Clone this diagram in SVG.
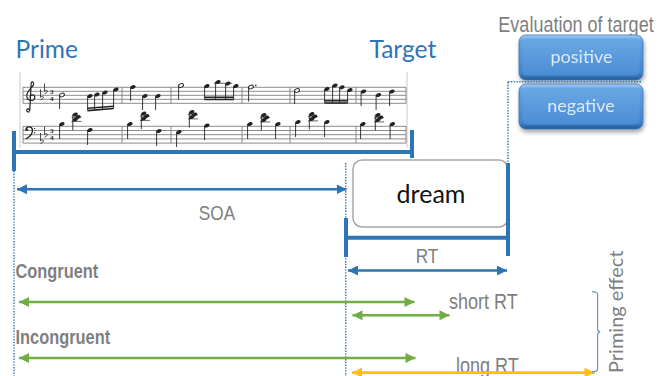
<svg xmlns="http://www.w3.org/2000/svg" xmlns:xlink="http://www.w3.org/1999/xlink" width="660" height="376" viewBox="0 0 660 376">
  <style>
    .blue-title { font-family: Lato, "Open Sans", sans-serif; font-size: 24.5px; fill: #2e75b6; }
    .gray { font-family: "Liberation Sans", Arial, sans-serif; fill: #7f7f7f; }
    .gray-b { font-family: "Liberation Sans", Arial, sans-serif; fill: #7f7f7f; font-weight: bold; }
    .btn-text { font-family: Lato, "Open Sans", sans-serif; font-size: 18px; fill: #dde9f6; text-anchor: middle; }
    .staff { stroke: #6f6f6f; stroke-width: 0.8; fill: none; }
    .ink { fill: #222; }
    .stem { stroke: #222; stroke-width: 0.9; fill: none; }
    .beam { stroke: #222; stroke-width: 1.6; fill: none; }
    .bracket { stroke: #2e75b6; stroke-width: 4; fill: none; }
    .dotted { stroke: #2e75b6; stroke-width: 1.4; stroke-dasharray: 1.4 1.4; fill: none; }
    .arr-blue { stroke: #2e75b6; stroke-width: 2.4; fill: none; }
    .arr-green { stroke: #70ad47; stroke-width: 2.6; fill: none; }
    .arr-yellow { stroke: #ffc000; stroke-width: 2.6; fill: none; }
  </style>
  <defs>
    <marker id="head-blue" viewBox="0 0 10 10" refX="10" refY="5" markerWidth="10" markerHeight="10" markerUnits="userSpaceOnUse" orient="auto-start-reverse">
      <path d="M0,0 L10,5 L0,10 z" fill="#2e75b6"/>
    </marker>
    <marker id="head-green" viewBox="0 0 10 10" refX="10" refY="5" markerWidth="11" markerHeight="10" markerUnits="userSpaceOnUse" orient="auto-start-reverse">
      <path d="M0,0 L10,5 L0,10 z" fill="#70ad47"/>
    </marker>
    <marker id="head-yellow" viewBox="0 0 10 10" refX="10" refY="5" markerWidth="11" markerHeight="10" markerUnits="userSpaceOnUse" orient="auto-start-reverse">
      <path d="M0,0 L10,5 L0,10 z" fill="#ffc000"/>
    </marker>
    <linearGradient id="btn-outer" x1="0" y1="0" x2="0" y2="1">
      <stop offset="0" stop-color="#a8d0f4"/>
      <stop offset="0.12" stop-color="#62a3e2"/>
      <stop offset="0.85" stop-color="#4284cd"/>
      <stop offset="1" stop-color="#245a96"/>
    </linearGradient>
    <linearGradient id="btn-inner" x1="0" y1="0" x2="0" y2="1">
      <stop offset="0" stop-color="#69a8e5"/>
      <stop offset="1" stop-color="#4b8dd4"/>
    </linearGradient>
    <filter id="btn-shadow" x="-10%" y="-20%" width="125%" height="150%">
      <feDropShadow dx="1" dy="3" stdDeviation="2" flood-color="#000" flood-opacity="0.35"/>
    </filter>
    <ellipse id="nh" rx="2.7" ry="1.9" transform="rotate(-20)" class="ink"/>
    <ellipse id="hh" rx="2.5" ry="1.7" transform="rotate(-20)" fill="#fff" stroke="#222" stroke-width="1"/>
    <g id="chord">
      <use href="#nh" x="-1.2" y="-2.5"/>
      <use href="#nh" x="1.6" y="0"/>
      <use href="#nh" x="-1.2" y="2.5"/>
      <path d="M-5,0.2 h10 M-5,4.4 h10" stroke="#222" stroke-width="0.7"/>
      <path d="M-3.7,-2.5 V13" class="stem"/>
    </g>
    <path id="flat" d="M0,-6 V2 c2.2,-1.9 3.8,-0.5 2.5,1 c-0.8,0.8 -1.7,1.3 -2.5,1.6" stroke="#222" stroke-width="0.8" fill="none"/>
  </defs>

  <!-- headings -->
  <g id="prime-label"><text class="blue-title" x="15.5" y="58.3">Prime</text></g>
  <g id="target-label"><text class="blue-title" x="369.5" y="58.3">Target</text></g>
  <g id="evaluation-label"><text class="gray" font-size="22" transform="translate(576,31.7) scale(0.82,1)" text-anchor="middle">Evaluation of target</text></g>

  <!-- score excerpt presented as the prime -->
  <g id="score">
    <path d="M20,72 V148 M407,72 V148" stroke="#d4d4d4" stroke-width="1.2"/>
    <!-- staves -->
    <path class="staff" d="M23,87.3 H406 M23,91.3 H406 M23,95.3 H406 M23,99.3 H406 M23,103.3 H406"/>
    <path class="staff" d="M23,126.3 H406 M23,130.5 H406 M23,134.7 H406 M23,138.9 H406 M23,143.1 H406"/>
    <path class="staff" d="M23,87.3 V103.3 M122,87.3 V103.3 M171,87.3 V103.3 M242,87.3 V103.3 M290,87.3 V103.3 M356,87.3 V103.3 M406,87.3 V103.3"/>
    <path class="staff" d="M23,126.3 V143.1 M122,126.3 V143.1 M171,126.3 V143.1 M242,126.3 V143.1 M290,126.3 V143.1 M356,126.3 V143.1 M406,126.3 V143.1"/>
    <!-- clefs, key and time signatures -->
    <path d="M29.6,111.6 c-1.8,0.7 -3.6,-0.5 -2.7,-2.1 c0.8,-1.3 2.7,-0.7 2.3,0.8 M29.7,111 L31.2,83.2 c0.3,-2.2 3,-1.7 2.3,1.3 c-0.7,3 -6.8,6.6 -6.8,11.4 c0,4 4.1,5.5 6.6,4 c2.4,-1.5 1.8,-5 -0.9,-5 c-2,0 -3,2 -1.9,3.2" stroke="#222" stroke-width="1.2" fill="none"/>
    <path d="M25.8,129.6 c0.2,-3.4 6,-3.8 6.6,0 c0.6,4 -3,7.4 -6.6,9.4" stroke="#222" stroke-width="1.3" fill="none"/>
    <circle cx="26.8" cy="129.8" r="1.3" class="ink"/>
    <circle cx="34.6" cy="128.6" r="0.7" class="ink"/>
    <circle cx="34.6" cy="132.8" r="0.7" class="ink"/>
    <use href="#flat" x="40.5" y="95.3"/>
    <use href="#flat" x="44.5" y="89.3"/>
    <use href="#flat" x="40.5" y="138.9"/>
    <use href="#flat" x="44.5" y="132.6"/>
    <g font-family="'Liberation Serif', serif" font-weight="bold" font-size="7" fill="#222">
      <text x="50" y="93.6">3</text><text x="50" y="101.4">4</text>
      <text x="50" y="132.6">3</text><text x="50" y="140.4">4</text>
    </g>
    <!-- treble voice -->
    <use href="#hh" x="62" y="95"/>
    <use href="#nh" x="90" y="96"/><use href="#nh" x="97" y="94.5"/><use href="#nh" x="105" y="92.5"/><use href="#nh" x="116" y="89.5"/>
    <use href="#nh" x="133" y="87"/><use href="#nh" x="145" y="96"/><use href="#nh" x="158" y="96"/>
    <use href="#hh" x="181" y="85.5"/>
    <use href="#nh" x="207" y="86"/><use href="#nh" x="218" y="82"/><use href="#nh" x="228" y="83.5"/><use href="#nh" x="236" y="86"/>
    <use href="#hh" x="251" y="87"/><circle cx="255.8" cy="85.4" r="0.8" class="ink"/>
    <use href="#hh" x="297" y="90.5"/>
    <use href="#nh" x="327" y="89"/><use href="#nh" x="335" y="85.5"/><use href="#nh" x="342" y="87.3"/><use href="#nh" x="350" y="90"/>
    <use href="#nh" x="363.5" y="91.5"/><use href="#nh" x="378.5" y="95"/><use href="#nh" x="392" y="91.5"/>
    <path d="M214,83.3 h18" stroke="#222" stroke-width="0.7"/>
    <path class="stem" d="M59.6,95 V109 M87.6,96 V110.6 M94.6,94.5 V110 M102.6,92.5 V109.3 M113.6,89.5 V108.5 M130.6,87 V101 M142.6,96 V110 M155.6,96 V110 M178.6,85.5 V99.5 M204.6,86 V99.5 M215.6,82 V99.5 M225.6,83.5 V99.5 M233.6,86 V99.5 M248.6,87 V101.5 M294.6,90.5 V104 M324.6,89 V103 M332.6,85.5 V103 M339.6,87.3 V103 M347.6,90 V103 M361.1,91.5 V106 M376.1,95 V110 M389.6,91.5 V106"/>
    <path class="beam" d="M87.6,110.6 L113.6,108.5 M87.6,108.3 L113.6,106.2 M204.6,99.5 H233.6 M204.6,97.3 H233.6 M324.6,103 H347.6 M324.6,100.8 H347.6"/>
    <!-- bass voice -->
    <use href="#nh" x="62" y="124"/><use href="#chord" x="76.5" y="117"/><use href="#nh" x="90" y="130"/>
    <use href="#nh" x="130" y="124"/><use href="#chord" x="145" y="116"/><use href="#nh" x="159" y="131"/>
    <use href="#nh" x="179" y="132"/><use href="#chord" x="193" y="114.5"/><use href="#nh" x="207" y="125.5"/>
    <use href="#nh" x="250" y="124"/><use href="#chord" x="265" y="117.5"/><use href="#nh" x="278" y="124"/>
    <use href="#nh" x="298" y="122"/><use href="#chord" x="313" y="116.5"/><use href="#nh" x="327" y="122"/>
    <use href="#nh" x="363" y="124"/><use href="#chord" x="379" y="117.5"/><use href="#nh" x="392.5" y="124"/>
    <path class="stem" d="M59.6,124 V139 M87.6,130 V145 M127.6,124 V139 M156.6,131 V146 M176.6,132 V147 M204.6,125.5 V140 M247.6,124 V139 M275.6,124 V139 M295.6,122 V137 M324.6,122 V137 M360.6,124 V139 M390.1,124 V139"/>
  </g>

  <!-- word presented as the target -->
  <g id="dream">
    <rect x="353" y="160" width="155" height="67" rx="9" fill="#fff" stroke="#a6a6a6" stroke-width="1.5"/>
    <text x="431" y="203" font-family="Lato, 'Open Sans', sans-serif" font-size="25" fill="#111" text-anchor="middle">dream</text>
  </g>

  <!-- response options -->
  <g id="positive" filter="url(#btn-shadow)">
    <rect x="519" y="35" width="124" height="45" rx="7" fill="url(#btn-outer)" stroke="#3b74b2" stroke-width="0.8"/>
    <rect x="522.5" y="38.5" width="117" height="37" rx="5" fill="url(#btn-inner)"/>
    <text class="btn-text" x="581.5" y="63.3">positive</text>
  </g>
  <g id="negative" filter="url(#btn-shadow)">
    <rect x="519" y="84" width="124" height="45" rx="7" fill="url(#btn-outer)" stroke="#3b74b2" stroke-width="0.8"/>
    <rect x="522.5" y="87.5" width="117" height="37" rx="5" fill="url(#btn-inner)"/>
    <text class="btn-text" x="581" y="111.5">negative</text>
  </g>

  <!-- timing labels -->
  <g id="soa-label"><text class="gray" font-size="21" transform="translate(217,220) scale(0.82,1)" text-anchor="middle">SOA</text></g>
  <g id="rt-label"><text class="gray" font-size="21" transform="translate(427,262.7) scale(0.82,1)" text-anchor="middle">RT</text></g>
  <g id="congruent-label"><text class="gray-b" font-size="20" transform="translate(15.5,278.3) scale(0.82,1)">Congruent</text></g>
  <g id="incongruent-label"><text class="gray-b" font-size="20" transform="translate(15.5,344.3) scale(0.82,1)">Incongruent</text></g>
  <g id="short-rt-label"><text class="gray" font-size="22" transform="translate(449,309) scale(0.82,1)">short RT</text></g>
  <g id="long-rt-label"><text class="gray" font-size="22" transform="translate(456,373) scale(0.82,1)">long RT</text></g>
  <g id="priming-label"><text transform="translate(622.7,373) rotate(-90)" font-family="Lato, 'Open Sans', sans-serif" font-size="20" fill="#7f7f7f">Priming effect</text></g>

  <!-- connectors: onset guides, brackets and interval arrows -->
  <g id="connectors">
    <path class="dotted" d="M14,171 V376 M345.7,163 V376 M508,82 V163 M508,81.8 H641"/>
    <path class="bracket" d="M14,131 V171 M14,152 H412 M412,130 V158"/>
    <path class="bracket" d="M346,218 V257 M346,237.7 H508 M508,163 V256"/>
    <path class="arr-blue" d="M17,189.3 H346.5" marker-start="url(#head-blue)" marker-end="url(#head-blue)"/>
    <path class="arr-blue" d="M348,270.5 H507" marker-start="url(#head-blue)" marker-end="url(#head-blue)"/>
    <path class="arr-green" d="M19,302 H414.5" marker-start="url(#head-green)" marker-end="url(#head-green)"/>
    <path class="arr-green" d="M352.5,315.3 H449.5" marker-start="url(#head-green)" marker-end="url(#head-green)"/>
    <path class="arr-green" d="M19,358 H415.5" marker-start="url(#head-green)" marker-end="url(#head-green)"/>
    <path class="arr-yellow" d="M352,372.6 H594.5" marker-start="url(#head-yellow)" marker-end="url(#head-yellow)"/>
    <path d="M592,291.7 q5.6,0 5.6,3 V328.8 q0,3 2.6,3 q-2.6,0 -2.6,3 V368.8 q0,3 -5.6,3" stroke="#5b9bd5" stroke-width="1.2" fill="none"/>
  </g>
</svg>
